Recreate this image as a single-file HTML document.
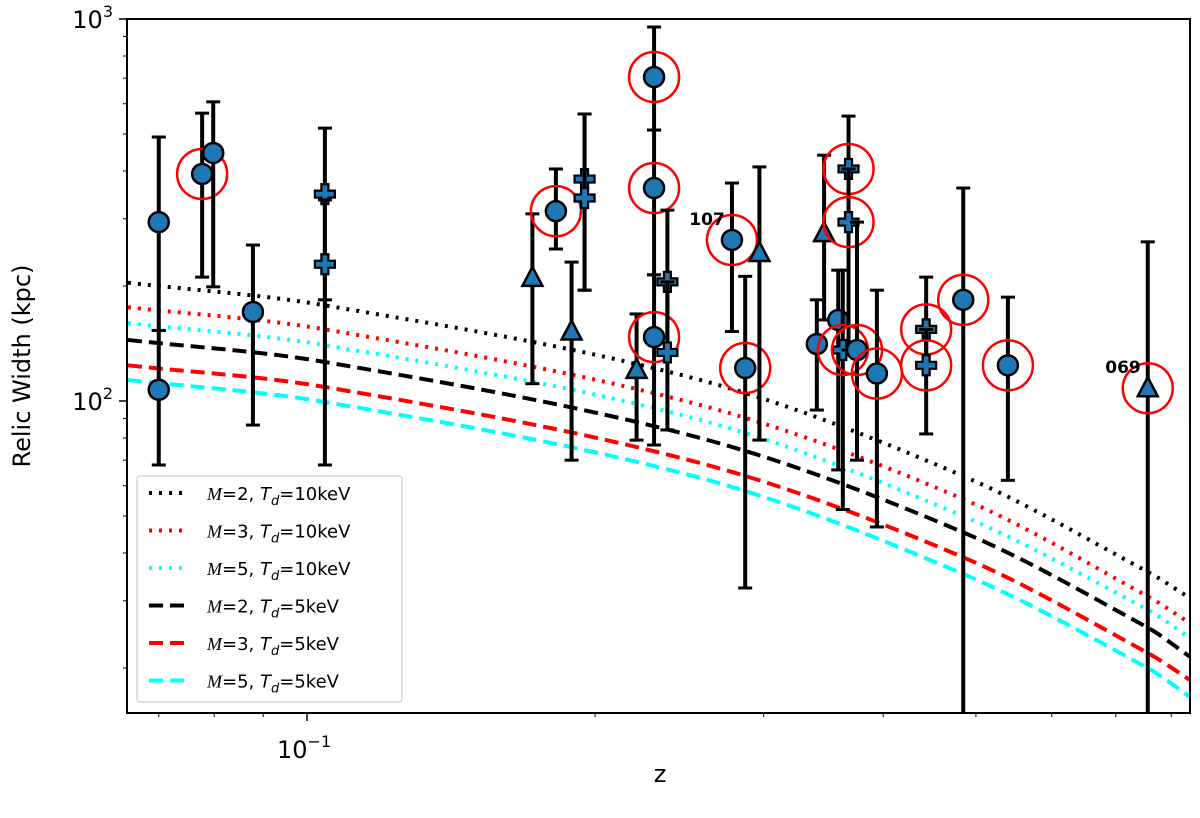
<!DOCTYPE html>
<html><head><meta charset="utf-8"><style>
body{margin:0;background:#fff;}
svg text{font-family:"DejaVu Sans","Liberation Sans",sans-serif;}
</style></head><body>
<svg id="chart" width="1200" height="813" viewBox="0 0 1200 813" xmlns="http://www.w3.org/2000/svg">
<g id="curves"></g>
<g id="points"></g>
<g id="axes"></g>
<g id="legend"></g>
</svg>
<script>
const curveZ = [0.065, 0.1044, 0.2576, 0.487, 0.756, 0.837];
const curveM2T10 = [204, 178, 113.5, 63.3, 35.7, 30.5];
const curveM3T10 = [176, 154, 97.6, 55.1, 30.8, 26.2];
const curveM5T10 = [160, 140, 89.2, 49.7, 28.4, 24.0];
const curveM2T5 = [144.5, 126.5, 80.0, 45.1, 25.5, 21.4];
const curveM3T5 = [124, 108.8, 68.8, 38.8, 21.9, 18.6];
const curveM5T5 = [113.5, 99.4, 62.9, 35.1, 20.0, 16.8];
// z, width, low, high
const ptZ  = [0.070,0.070,0.0777,0.0798,0.0878,0.1044,0.1044,0.172,0.182,0.189,0.195,0.195,0.221,0.2305,0.2305,0.2305,0.238,0.238,0.278,0.287,0.297,0.341,0.347,0.359,0.363,0.368,0.368,0.3756,0.394,0.4436,0.4436,0.485,0.540,0.756];
const ptW  = [294,107,393,446,171,348,228,210,314,152,381,340,120.6,705,361,147,205,134,264,122,244,141,275,163,136,405,294,136,118,154,124,184,124,108];
const ptLo = [153,68,211,199,86.5,184,68,111,250,70,195,195,79,512,214,76.7,134,84,152,32.4,79,94.7,163,66,52,294,136,70,46.8,124,82,10,62,10];
const ptHi = [491,153,567,607,256,518,336,309,405,231,564,564,169,953,512,214,316,205,372,212,410,184,440,220,220,557,405,294,195,211,154,361,187,261];
const ptMarker = ['o','o','o','o','o','P','P','^','o','^','P','P','^','o','o','o','P','P','o','o','^','o','^','o','P','P','P','o','o','P','P','o','o','^'];
const ptRing = [0,0,1,0,0,0,0,0,1,0,0,0,0,1,1,1,0,0,1,1,0,0,0,0,1,1,1,1,1,1,1,1,1,1];
const yMajor = [100, 1000];
const yMajorLabels = ['2','3'];
const xMinor = [0.07,0.08,0.09,0.2,0.3,0.4,0.5,0.6,0.7,0.8];

const L=127,R=1190,T=19,B=713;
const X = z => 307 + (Math.log10(z)+1)*957;
const Y = w => { const v=Math.max(w,1); return 401 - (Math.log10(v)-2)*382; };
const NS='http://www.w3.org/2000/svg';
function mk(tag, attrs, parent){const e=document.createElementNS(NS,tag);for(const k in attrs)e.setAttribute(k,attrs[k]);parent.appendChild(e);return e;}

const svg=document.getElementById('chart');
const defs=mk('defs',{},svg);
const cp=mk('clipPath',{id:'clip'},defs);
mk('rect',{x:L,y:T,width:R-L,height:B-T},cp);

const curves=[
 {d:curveM2T10,c:'#000',dash:'3,7',name:'curve-m2-t10'},
 {d:curveM3T10,c:'#ff0000',dash:'3,7',name:'curve-m3-t10'},
 {d:curveM5T10,c:'#00ffff',dash:'3,7',name:'curve-m5-t10'},
 {d:curveM2T5,c:'#000',dash:'14,7',name:'curve-m2-t5'},
 {d:curveM3T5,c:'#ff0000',dash:'14,7',name:'curve-m3-t5'},
 {d:curveM5T5,c:'#00ffff',dash:'14,7',name:'curve-m5-t5'}];
const cg=document.getElementById('curves');
cg.setAttribute('clip-path','url(#clip)');
function smooth(pts){
  let d='M'+pts[0][0]+','+pts[0][1];
  for(let i=0;i<pts.length-1;i++){
    const p0=pts[Math.max(0,i-1)],p1=pts[i],p2=pts[i+1],p3=pts[Math.min(pts.length-1,i+2)];
    const h=p2[0]-p1[0];
    const s1=(p2[1]-p0[1])/(p2[0]-p0[0]||1), s2=(p3[1]-p1[1])/(p3[0]-p1[0]||1);
    const c1=[p1[0]+h/3,p1[1]+s1*h/3];
    const c2=[p2[0]-h/3,p2[1]-s2*h/3];
    d+=' C'+c1+' '+c2+' '+p2;
  }
  return d;
}
curves.forEach(cv=>{
  const pts=curveZ.map((z,i)=>[X(z),Y(cv.d[i])]);
  const p=mk('path',{d:smooth(pts),fill:'none',stroke:cv.c,'stroke-width':4,'stroke-dasharray':cv.dash},cg);
  
  
});

const pg=document.getElementById('points');
pg.setAttribute('clip-path','url(#clip)');
ptZ.forEach((z,i)=>{
  const g=mk('g',{},pg);
  
  
  const x=X(z),y=Y(ptW[i]),ylo=Y(ptLo[i]),yhi=Y(ptHi[i]);
  mk('line',{x1:x,x2:x,y1:ylo,y2:yhi,stroke:'#000','stroke-width':4},g);
  mk('line',{x1:x-7,x2:x+7,y1:ylo,y2:ylo,stroke:'#000','stroke-width':3},g);
  mk('line',{x1:x-7,x2:x+7,y1:yhi,y2:yhi,stroke:'#000','stroke-width':3},g);
  const m=ptMarker[i];
  if(m==='o') mk('circle',{cx:x,cy:y,r:10,fill:'#1f77b4',stroke:'#000','stroke-width':2.5},g);
  else if(m==='^') mk('polygon',{points:`${x},${y-11} ${x-10},${y+8} ${x+10},${y+8}`,fill:'#1f77b4',stroke:'#000','stroke-width':2.5},g);
  else { const a=3.5,b=10; mk('polygon',{points:`${x-a},${y-b} ${x+a},${y-b} ${x+a},${y-a} ${x+b},${y-a} ${x+b},${y+a} ${x+a},${y+a} ${x+a},${y+b} ${x-a},${y+b} ${x-a},${y+a} ${x-b},${y+a} ${x-b},${y-a} ${x-a},${y-a}`,fill:'#1f77b4',stroke:'#000','stroke-width':2.2},g); }
  if(ptRing[i]) mk('circle',{cx:x,cy:y,r:25,fill:'none',stroke:'#ff0000','stroke-width':2.5},g);
});
const t1=mk('text',{x:707,y:225,'font-size':17,'font-weight':'bold','text-anchor':'middle'},svg);t1.textContent='107';

const t2=mk('text',{x:1123,y:373,'font-size':17,'font-weight':'bold','text-anchor':'middle'},svg);t2.textContent='069';


const ag=document.getElementById('axes');
mk('rect',{x:L,y:T,width:R-L,height:B-T,fill:'none',stroke:'#000','stroke-width':2},ag);
yMajor.forEach((v,i)=>{
  const y=Y(v);
  mk('line',{x1:L-8,x2:L,y1:y,y2:y,stroke:'#000','stroke-width':1.5},ag);
  const t=mk('text',{x:L-14,y:y+9,'font-size':24,'text-anchor':'end'},ag);
  t.textContent='10';
  
  
  const s=mk('tspan',{'font-size':16,dy:-11},t); s.textContent=yMajorLabels[i];
});
[20,30,40,50,60,70,80,90,200,300,400,500,600,700,800,900].forEach(v=>{
  const y=Y(v); if(y>B) return;
  mk('line',{x1:L-4,x2:L,y1:y,y2:y,stroke:'#000','stroke-width':1},ag);
});
{const x=X(0.1);
 mk('line',{x1:x,x2:x,y1:B,y2:B+8,stroke:'#000','stroke-width':1.5},ag);
 const t=mk('text',{x:x-30,y:B+45,'font-size':24},ag); t.textContent='10';
  
 const s=mk('tspan',{'font-size':16,dy:-11},t); s.textContent='−1';}
xMinor.forEach(z=>{const x=X(z);mk('line',{x1:x,x2:x,y1:B,y2:B+4,stroke:'#000','stroke-width':1},ag);});
const xt=mk('text',{x:660,y:782,'font-size':24,'text-anchor':'middle'},ag);xt.textContent='z';

const yt=mk('text',{x:30,y:366,'font-size':24,'text-anchor':'middle',transform:'rotate(-90 30 366)'},ag);yt.textContent='Relic Width (kpc)';


const lg=document.getElementById('legend');
mk('rect',{x:137,y:476,width:265,height:226,fill:'#fff',stroke:'#ccc','stroke-width':1.2,rx:3},lg);
const labels=[['2','10'],['3','10'],['5','10'],['2','5'],['3','5'],['5','5']];
curves.forEach((cv,i)=>{
  const y=493+i*37.5;
  const g=mk('g',{},lg);
  
  
  mk('line',{x1:149,x2:189,y1:y,y2:y,stroke:cv.c,'stroke-width':4,'stroke-dasharray':cv.dash},g);
  const t=mk('text',{x:207,y:y+7,'font-size':18},g);
  const a=mk('tspan',{'font-style':'italic','font-family':'Liberation Serif, serif'},t);a.textContent='M';
  const b=mk('tspan',{},t);b.textContent='='+labels[i][0]+', ';
  const c=mk('tspan',{'font-style':'italic'},t);c.textContent='T';
  const d=mk('tspan',{'font-style':'italic','font-size':13,dy:5},t);d.textContent='d';
  const e=mk('tspan',{dy:-5},t);e.textContent='='+labels[i][1]+'keV';
});
</script>
</body></html>
